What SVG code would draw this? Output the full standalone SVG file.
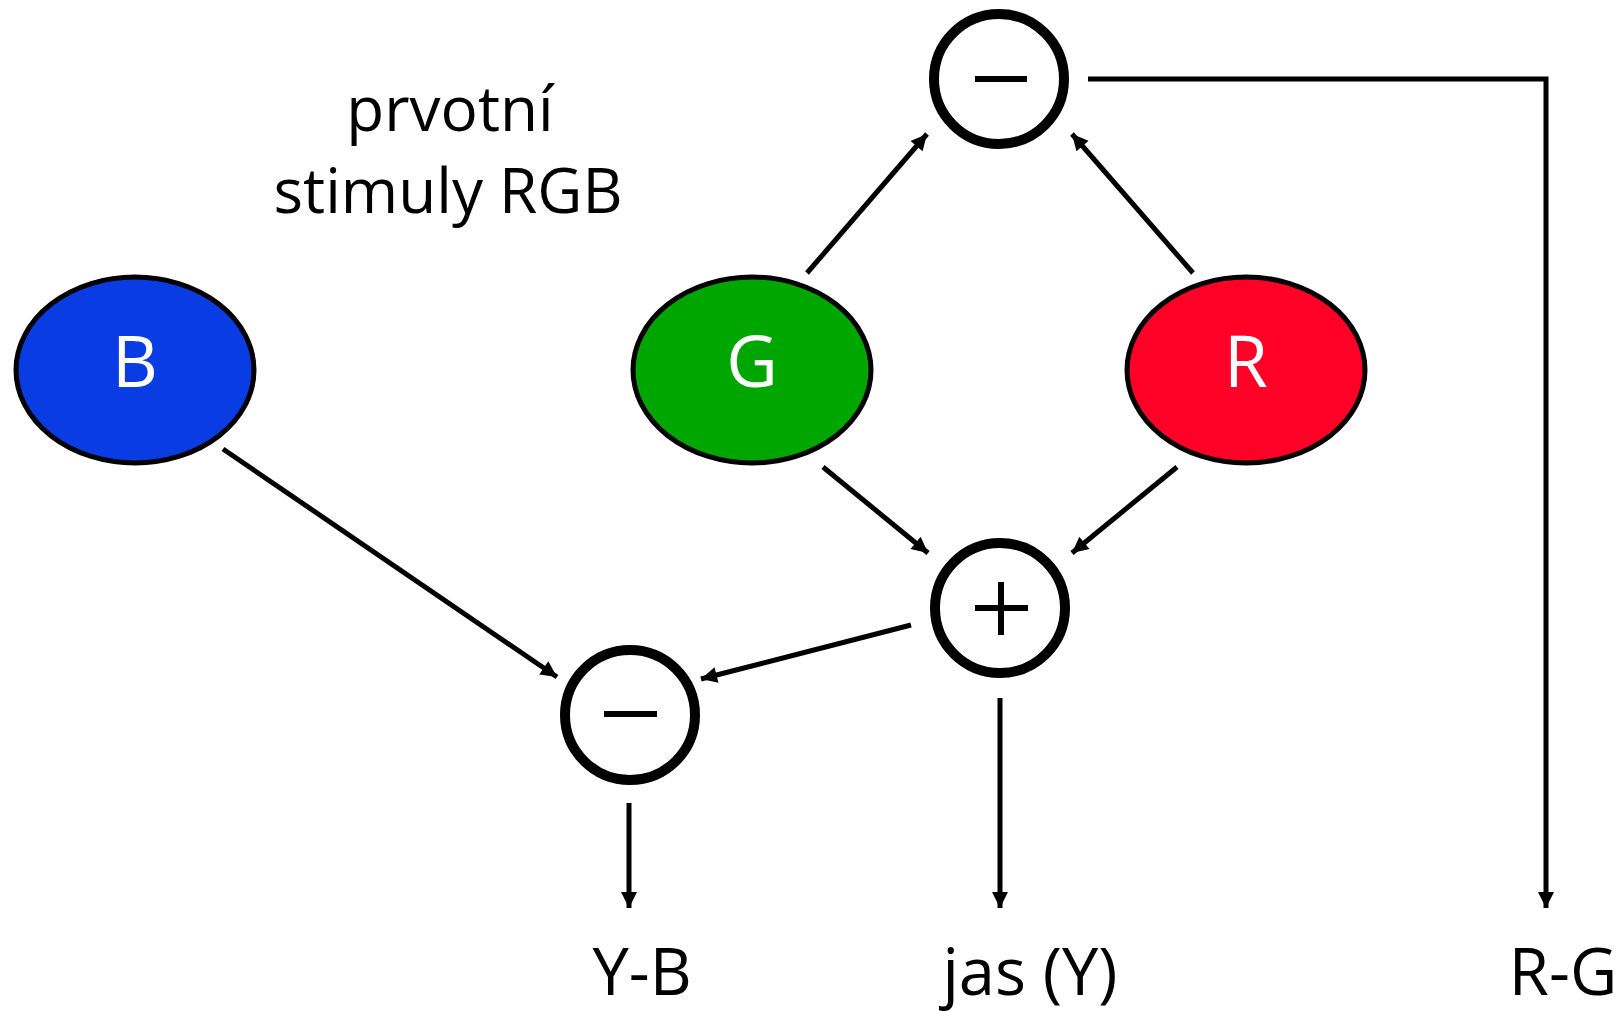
<svg xmlns="http://www.w3.org/2000/svg" width="1623" height="1011" viewBox="0 0 1623 1011">
<style>
.lbl{font-family:"Open Sans","Liberation Sans",sans-serif;fill:#000;text-anchor:middle}
.in{font-family:"Open Sans","Liberation Sans",sans-serif;fill:#fff;text-anchor:middle;font-size:71px}
.ell{stroke:#000;stroke-width:5}
.op{fill:#fff;stroke:#000;stroke-width:10}
.sign{stroke:#000;stroke-width:6;fill:none}
.con{stroke:#000;stroke-width:5;fill:none;marker-end:url(#ah)}
</style>
<defs>
<marker id="ah" markerUnits="userSpaceOnUse" markerWidth="18" markerHeight="18" viewBox="0 0 18 18" refX="17" refY="9" orient="auto">
<path d="M1,1 L17,9 L1,17 Z" fill="#000"/>
</marker>
</defs>
<rect width="1623" height="1011" fill="#fff"/>
<g id="title">
<text class="lbl" x="450" y="131" font-size="62">prvotní</text>
<text class="lbl" x="448" y="213" font-size="62">stimuly RGB</text>
</g>
<g id="connectors">
<line class="con" x1="807" y1="273" x2="927" y2="134"/>
<line class="con" x1="1193" y1="273" x2="1072" y2="134"/>
<line class="con" x1="823" y1="467" x2="928" y2="553"/>
<line class="con" x1="1177" y1="467" x2="1072" y2="553"/>
<line class="con" x1="223" y1="449" x2="557" y2="677"/>
<line class="con" x1="911" y1="625" x2="701" y2="679"/>
<line class="con" x1="1000" y1="698" x2="1000" y2="908"/>
<line class="con" x1="629" y1="803" x2="629" y2="908"/>
<polyline class="con" points="1088,79 1546,79 1546,908"/>
</g>
<g id="node-B">
<ellipse class="ell" cx="135" cy="370" rx="119" ry="93" fill="#0a3ce3"/>
<text class="in" x="135" y="387">B</text>
</g>
<g id="node-G">
<ellipse class="ell" cx="752" cy="370" rx="119" ry="93" fill="#00a600"/>
<text class="in" x="752" y="387">G</text>
</g>
<g id="node-R">
<ellipse class="ell" cx="1246" cy="370" rx="119" ry="93" fill="#ff0027"/>
<text class="in" x="1246" y="387">R</text>
</g>
<g id="node-minus-top">
<circle class="op" cx="999" cy="79" r="65"/>
<line class="sign" x1="975" y1="79" x2="1027" y2="79"/>
</g>
<g id="node-plus">
<circle class="op" cx="1000" cy="608" r="65"/>
<line class="sign" x1="975" y1="608" x2="1028" y2="608"/>
<line class="sign" x1="1001" y1="582" x2="1001" y2="635"/>
</g>
<g id="node-minus-bottom">
<circle class="op" cx="630" cy="715" r="65"/>
<line class="sign" x1="604" y1="714" x2="657" y2="714"/>
</g>
<g id="outputs">
<text class="lbl" x="642" y="995" font-size="65">Y-B</text>
<text class="lbl" x="1030" y="995" font-size="65">jas (Y)</text>
<text class="lbl" x="1563" y="995" font-size="65">R-G</text>
</g>
</svg>
